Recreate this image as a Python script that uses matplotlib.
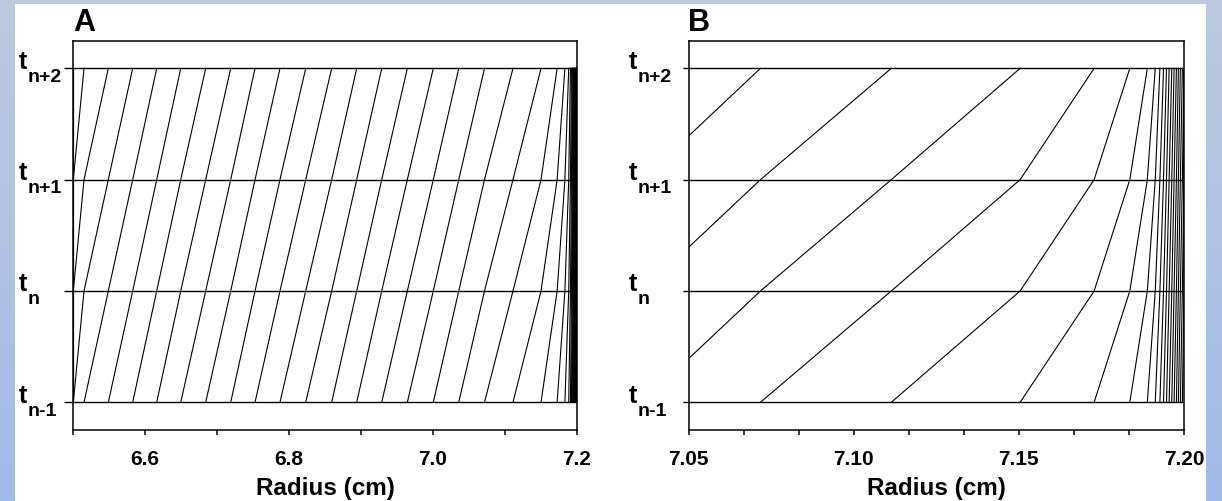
import numpy as np
import matplotlib
matplotlib.use("Agg")
import matplotlib.pyplot as plt
from matplotlib.patches import Rectangle
from matplotlib.transforms import ScaledTranslation, blended_transform_factory

plt.rcParams['font.family'] = ['Liberation Sans', 'DejaVu Sans']

# Radial grid positions (cm); the same set of nodes exists at every time level.
radii = [6.5000, 6.5149, 6.5487, 6.5826, 6.6160, 6.6494, 6.6841, 6.7189,
         6.7527, 6.7874, 6.8232, 6.8593, 6.8941, 6.9289, 6.9645, 7.0006,
         7.0360, 7.0718, 7.1114, 7.1504, 7.1728, 7.1836, 7.1889, 7.1913,
         7.1927, 7.1938, 7.1947, 7.1955, 7.1963, 7.1970, 7.1977, 7.1983,
         7.1989, 7.1995, 7.2000]

# Time levels, bottom to top
level_subs = ['n-1', 'n', 'n+1', 'n+2']

# Axis ticks
ticks_a = [6.5, 6.6, 6.7, 6.8, 6.9, 7.0, 7.1, 7.2]
labels_a = ['', '6.6', '', '6.8', '', '7.0', '', '7.2']
ticks_b = [7.05, 7.05 + 1/60, 7.05 + 2/60, 7.10, 7.10 + 1/60, 7.10 + 2/60,
           7.15, 7.15 + 1/60, 7.15 + 2/60, 7.20]
labels_b = ['7.05', '', '', '7.10', '', '', '7.15', '', '', '7.20']

W, H = 1222, 502
fig = plt.figure(figsize=(W / 100, H / 100), dpi=100)

# Page background: soft blue gradient with a white sheet on top
bg = fig.add_axes([0, 0, 1, 1], zorder=-10)
top_c = np.array([188, 202, 222]) / 255
bot_c = np.array([162, 186, 232]) / 255
t = np.linspace(0, 1, 256)[:, None]
grad = top_c[None, None, :] * (1 - t[..., None]) + bot_c[None, None, :] * t[..., None]
grad = np.repeat(grad, 2, axis=1)
bg.imshow(grad, extent=[0, 1, 0, 1], aspect='auto', origin='upper')
bg.add_patch(Rectangle((15 / W, 0), (1206 - 15) / W, (H - 5) / H,
                       facecolor='white', edgecolor='none'))
bg.set_xlim(0, 1)
bg.set_ylim(0, 1)
bg.axis('off')

ax_bottom = 1 - 431 / H
ax_height = (431 - 41.7) / H
ax_a = fig.add_axes([73.3 / W, ax_bottom, 503.4 / W, ax_height])
ax_b = fig.add_axes([688.5 / W, ax_bottom, 495.5 / W, ax_height])

levels = np.arange(len(level_subs))
r = np.array(radii)
n_nodes = len(r)


def draw_panel(ax, xlim, ticks, labels, letter, label_dx, ytick_len):
    # Each node moves to the position of its neighbour in one time step
    for i in range(-len(levels), n_nodes):
        idx = np.clip(i + levels, 0, n_nodes - 1)
        ax.plot(r[idx], levels, color='black', lw=0.8, solid_joinstyle='miter')
    for lv in levels:
        ax.axhline(lv, color='black', lw=1.0)

    ax.set_xlim(*xlim)
    ax.set_ylim(-0.249, 3.248)
    ax.set_xticks(ticks, labels=labels)
    ax.set_yticks(levels, labels=[''] * len(levels))
    ax.tick_params(axis='x', direction='out', length=3.6, width=1.1, pad=10,
                   labelsize=15)
    ax.tick_params(axis='y', direction='out', length=ytick_len, width=1.0)
    for lab in ax.get_xticklabels():
        lab.set_fontweight('bold')
    for sp in ax.spines.values():
        sp.set_linewidth(1.1)
    ax.set_xlabel('Radius (cm)', fontsize=17.5, fontweight='bold', labelpad=6)

    base = blended_transform_factory(ax.transAxes, ax.transData)
    for lv, sub in zip(levels, level_subs):
        off_main = ScaledTranslation(label_dx / 100, 0.5 / 100, fig.dpi_scale_trans)
        ax.text(0, lv, 't', transform=base + off_main, fontsize=18,
                fontweight='bold', ha='left', va='baseline')
        off_sub = ScaledTranslation((label_dx + 9) / 100, -12.5 / 100,
                                    fig.dpi_scale_trans)
        ax.text(0, lv, sub, transform=base + off_sub, fontsize=14,
                fontweight='bold', ha='left', va='baseline')

    ax.text(0, 1, letter, transform=ax.transAxes + ScaledTranslation(0, 10.5 / 100, fig.dpi_scale_trans),
            fontsize=22, fontweight='bold', ha='left', va='baseline')


draw_panel(ax_a, (6.5, 7.2), ticks_a, labels_a, 'A', -55, 6.5)
draw_panel(ax_b, (7.05, 7.20), ticks_b, labels_b, 'B', -60, 4.3)

fig.savefig('out.png', dpi=100)
